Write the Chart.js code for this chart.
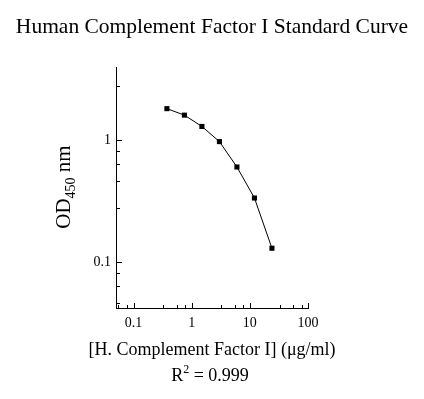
<!DOCTYPE html>
<html>
<head>
<meta charset="utf-8">
<script src="https://cdn.jsdelivr.net/npm/chart.js@4"></script>
<style>
  html, body { margin: 0; padding: 0; background: #fff; }
  #chart { display: block; }
</style>
</head>
<body>
<canvas id="chart" width="424" height="399"></canvas>
<script>
// standard curve data
const concentrations = [0.375, 0.75, 1.5, 3, 6, 12, 24];
const odValues = [1.82, 1.61, 1.30, 0.976, 0.604, 0.336, 0.130];

// axis ticks (log scale, linear minor ticks inside each decade)
const xMajorTicks = [0.1, 1, 10, 100];
const xMinorTicks = [0.055, 0.0775, 0.325, 0.55, 0.775, 3.25, 5.5, 7.75, 32.5, 55, 77.5];
const yMajorTicks = [0.1, 1];
const yMinorTicks = [0.046, 0.064, 0.082, 0.28, 0.46, 0.64, 0.82, 2.8];

const FONT = "'Liberation Serif', 'Times New Roman', serif";

function setTicks(majors, minors) {
    return scale => {
        const all = majors.map(v => ({ value: v, major: true }))
            .concat(minors.map(v => ({ value: v, major: false })));
        all.sort((a, b) => a.value - b.value);
        scale.ticks = all;
    };
}

const inwardTicks = {
    id: 'inwardTicks',
    afterDatasetsDraw(chart) {
        const { ctx, chartArea, scales: { x, y } } = chart;
        ctx.save();
        ctx.strokeStyle = '#000';
        ctx.lineWidth = 1;
        ctx.beginPath();
        x.ticks.forEach(t => {
            const px = Math.round(x.getPixelForValue(t.value)) + 0.5;
            const len = t.major ? 5 : 3;
            ctx.moveTo(px, chartArea.bottom);
            ctx.lineTo(px, chartArea.bottom - len);
        });
        y.ticks.forEach(t => {
            const py = Math.round(y.getPixelForValue(t.value)) + 0.5;
            const len = t.major ? 6 : 4;
            ctx.moveTo(chartArea.left, py);
            ctx.lineTo(chartArea.left + len, py);
        });
        ctx.stroke();
        ctx.restore();
    }
};

const textLabels = {
    id: 'textLabels',
    afterDraw(chart) {
        const ctx = chart.ctx;
        ctx.save();
        ctx.fillStyle = '#000';
        ctx.textBaseline = 'alphabetic';

        // title
        ctx.font = '21.5px ' + FONT;
        ctx.textAlign = 'center';
        ctx.fillText('Human Complement Factor I Standard Curve', 212, 33);

        // x axis title
        ctx.font = '18px ' + FONT;
        ctx.fillText('[H. Complement Factor I] (\u03bcg/ml)', 212, 355);

        // R squared line
        const parts = [['R', 18, 0], ['2', 12, -8], [' = 0.999', 18, 0]];
        let w = 0;
        parts.forEach(p => { ctx.font = p[1] + 'px ' + FONT; w += ctx.measureText(p[0]).width; });
        let cx = 210 - w / 2;
        ctx.textAlign = 'left';
        parts.forEach(p => {
            ctx.font = p[1] + 'px ' + FONT;
            ctx.fillText(p[0], cx, 381 + p[2]);
            cx += ctx.measureText(p[0]).width;
        });

        // y axis title, rotated
        ctx.translate(70, 187);
        ctx.rotate(-Math.PI / 2);
        const yparts = [['OD', 21, 0], ['450', 14, 5], [' nm', 21, 0]];
        w = 0;
        yparts.forEach(p => { ctx.font = p[1] + 'px ' + FONT; w += ctx.measureText(p[0]).width; });
        cx = -w / 2;
        yparts.forEach(p => {
            ctx.font = p[1] + 'px ' + FONT;
            ctx.fillText(p[0], cx, p[2]);
            cx += ctx.measureText(p[0]).width;
        });
        ctx.restore();
    }
};

new Chart(document.getElementById('chart'), {
    type: 'line',
    data: {
        datasets: [{
            data: concentrations.map((c, i) => ({ x: c, y: odValues[i] })),
            borderColor: '#000',
            borderWidth: 1,
            backgroundColor: '#000',
            pointStyle: 'rect',
            pointRadius: 3.6,
            pointBackgroundColor: '#000',
            pointBorderWidth: 0,
            tension: 0,
            fill: false
        }]
    },
    options: {
        responsive: false,
        animation: false,
        events: [],
        layout: { padding: { left: 0, right: 116, top: 67, bottom: 51 } },
        plugins: {
            legend: { display: false },
            tooltip: { enabled: false },
            title: { display: false }
        },
        scales: {
            x: {
                type: 'logarithmic',
                min: 0.05,
                max: 100,
                afterBuildTicks: setTicks(xMajorTicks, xMinorTicks),
                afterFit: scale => { scale.height = 40; },
                grid: { display: false, drawTicks: false },
                border: { display: true, color: '#000', width: 1 },
                ticks: {
                    autoSkip: false,
                    maxRotation: 0,
                    padding: 7,
                    color: '#000',
                    font: { family: FONT, size: 14 },
                    callback: v => xMajorTicks.includes(v) ? String(v) : ''
                }
            },
            y: {
                type: 'logarithmic',
                min: 0.042,
                max: 4,
                afterBuildTicks: setTicks(yMajorTicks, yMinorTicks),
                afterFit: scale => { scale.width = 116; },
                grid: { display: false, drawTicks: false },
                border: { display: true, color: '#000', width: 1 },
                ticks: {
                    autoSkip: false,
                    padding: 5,
                    color: '#000',
                    font: { family: FONT, size: 14 },
                    callback: v => yMajorTicks.includes(v) ? String(v) : ''
                }
            }
        }
    },
    plugins: [inwardTicks, textLabels]
});
</script>
</body>
</html>
